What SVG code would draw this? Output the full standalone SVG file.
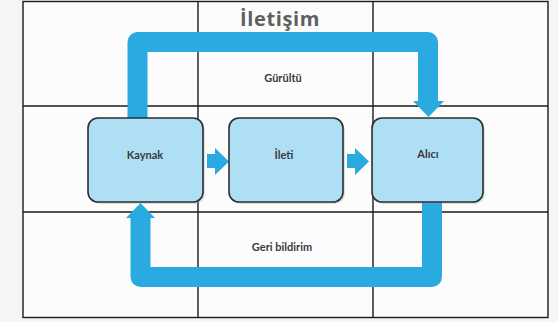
<svg xmlns="http://www.w3.org/2000/svg" width="558" height="322" viewBox="0 0 558 322">
<defs>
<style>
.grid{stroke:#1a1a1a;stroke-width:1.4;fill:none}
.box{fill:#aedff5;stroke:#2e2e2e;stroke-width:1.6}
.shadow{fill:#9aa;opacity:0.35}
.flow{fill:none;stroke:#29abe2;stroke-width:20;stroke-linejoin:round}
.head{fill:#29abe2}
.lbl{font-family:Lato,"Liberation Sans",sans-serif;font-size:11px;fill:#3a3a3a;text-anchor:middle;font-weight:bold}
.title{font-family:"Open Sans","Liberation Sans",sans-serif;font-size:20px;font-weight:bold;fill:#5f5f5f;text-anchor:middle;letter-spacing:0.6px}
</style>
</defs>
<rect x="0" y="0" width="558" height="322" fill="#f4f5f6"/>
<rect x="23" y="1.5" width="525" height="316" fill="#fcfcfd"/>
<g id="grid">
<rect class="grid" x="23" y="1.5" width="525" height="316"/>
<line class="grid" x1="198" y1="1.5" x2="198" y2="317.5"/>
<line class="grid" x1="373" y1="1.5" x2="373" y2="317.5"/>
<line class="grid" x1="23" y1="106" x2="548" y2="106"/>
<line class="grid" x1="23" y1="212" x2="548" y2="212"/>
</g>
<text class="title" x="280" y="26">İletişim</text>
<g id="connectors">
<path class="flow" d="M137.5 118 L137.5 42 L428 42 L428 101"/>
<polygon class="head" points="413,101 444,101 428.5,117"/>
<path class="flow" d="M432 202 L432 277 L140.5 277 L140.5 218"/>
<polygon class="head" points="126,218 155,218 140.5,203"/>
<polygon class="head" points="207,154 215,154 215,148 229,161.5 215,175 215,168 207,168"/>
<polygon class="head" points="347,154 355,154 355,148 369,161.5 355,175 355,168 347,168"/>
</g>
<g id="label-gurultu"><text class="lbl" x="283" y="82">Gürültü</text></g>
<g id="label-geri"><text class="lbl" x="282" y="251">Geri bildirim</text></g>
<g id="kaynak">
<rect class="shadow" x="90" y="120" width="115" height="84" rx="10"/>
<rect class="box" x="88" y="118" width="115" height="84" rx="10"/>
<text class="lbl" x="145" y="159">Kaynak</text>
</g>
<g id="ileti">
<rect class="shadow" x="231" y="120" width="114" height="84" rx="10"/>
<rect class="box" x="229" y="118" width="114" height="84" rx="10"/>
<text class="lbl" x="284" y="159">İleti</text>
</g>
<g id="alici">
<rect class="shadow" x="374" y="120" width="111" height="84" rx="10"/>
<rect class="box" x="372" y="118" width="111" height="84" rx="10"/>
<text class="lbl" x="428" y="158">Alıcı</text>
</g>
</svg>
